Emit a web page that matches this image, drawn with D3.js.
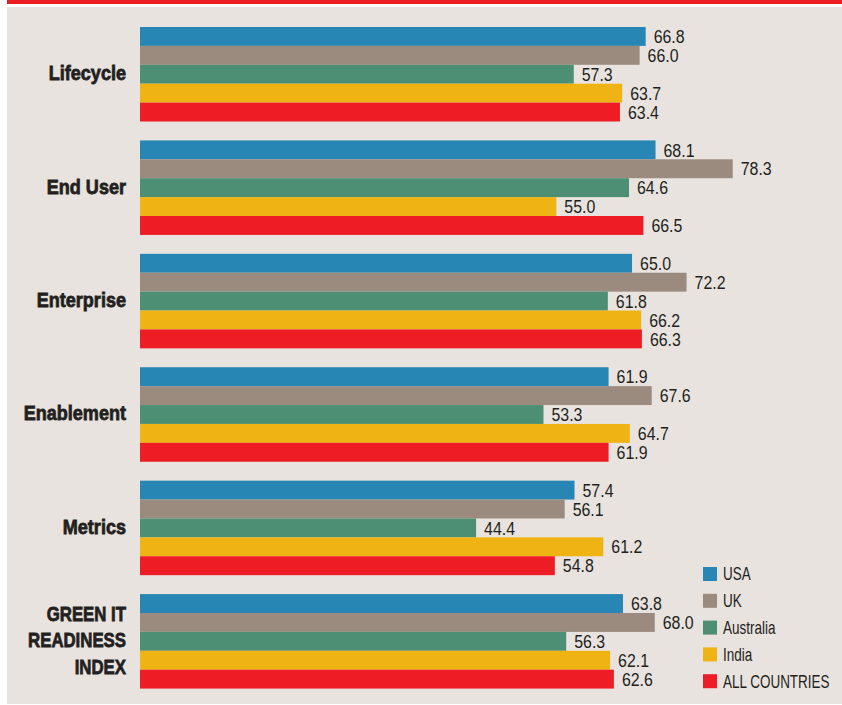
<!DOCTYPE html>
<html>
<head>
<meta charset="utf-8">
<script src="https://cdn.jsdelivr.net/npm/d3@7/dist/d3.min.js"></script>
<style>
  html, body { margin: 0; padding: 0; background: #ffffff; }
  svg { display: block; }
  .cat { font-family: "Liberation Sans", Arial, sans-serif; font-weight: bold; fill: #231f20; stroke: #231f20; stroke-width: 0.8px; }
  .val, .leg { font-family: "Liberation Sans", Arial, sans-serif; fill: #231f20; }
</style>
</head>
<body>
<script>
// Green IT readiness scores by dimension and country
const categories = ["Lifecycle", "End User", "Enterprise", "Enablement", "Metrics", "GREEN IT READINESS INDEX"];
const series = ["USA", "UK", "Australia", "India", "ALL COUNTRIES"];
const usa      = [66.8, 68.1, 65.0, 61.9, 57.4, 63.8];
const uk       = [66.0, 78.3, 72.2, 67.6, 56.1, 68.0];
const australia= [57.3, 64.6, 61.8, 53.3, 44.4, 56.3];
const india    = [63.7, 55.0, 66.2, 64.7, 61.2, 62.1];
const allCountries = [63.4, 66.5, 66.3, 61.9, 54.8, 62.6];
const colors = ["#2786b4", "#9a8b7e", "#4d8f74", "#efb313", "#ee1c25"];

const values = [usa, uk, australia, india, allCountries];
const W = 842, H = 705;

const svg = d3.select("body").append("svg").attr("width", W).attr("height", H);

// header band and panel
svg.append("rect").attr("x", 7).attr("y", 0).attr("width", W - 7).attr("height", 4).attr("fill", "#ee1c25");
svg.append("rect").attr("x", 7).attr("y", 7).attr("width", W - 7).attr("height", 697).attr("fill", "#e8e3df");

const x = d3.scaleLinear().domain([0, 100]).range([140, 897]);
const y0 = d3.scaleBand().domain(categories).range([27, 707.5]);
const groupH = 94.5;
const y1 = d3.scaleBand().domain(series).range([0, groupH]);

// condensed type is emulated by a horizontal squeeze
const squeeze = (tx, ty, k) => `translate(${tx},${ty}) scale(${k},1)`;

const groups = svg.selectAll("g.grp").data(categories).join("g")
  .attr("class", "grp")
  .attr("transform", d => `translate(0,${y0(d)})`);

groups.each(function(cat, ci) {
  const g = d3.select(this);
  const rows = series.map((s, si) => ({ s, si, v: values[si][ci] }));
  g.selectAll("rect").data(rows).join("rect")
    .attr("x", x(0))
    .attr("y", d => y1(d.s))
    .attr("width", d => x(d.v) - x(0))
    .attr("height", y1.bandwidth())
    .attr("fill", d => colors[d.si]);
  g.selectAll("text.val").data(rows).join("text")
    .attr("class", "val")
    .attr("transform", d => squeeze(x(d.v) + 8, y1(d.s) + y1.bandwidth() / 2, 0.86))
    .attr("dy", "0.36em")
    .attr("font-size", 18.5)
    .text(d => d.v.toFixed(1));

  // category label, wrapped for the index
  const lines = cat === "GREEN IT READINESS INDEX" ? ["GREEN IT", "READINESS", "INDEX"] : [cat];
  const lh = 26.5;
  lines.forEach((ln, i) => {
    g.append("text").attr("class", "cat")
      .attr("text-anchor", "end")
      .attr("font-size", 21)
      .attr("transform", squeeze(126, groupH / 2 + (i - (lines.length - 1) / 2) * lh, lines.length > 1 ? 0.8 : 0.86))
      .attr("dy", "0.28em")
      .text(ln);
  });
});

// legend
const leg = svg.append("g");
series.forEach((s, i) => {
  const yy = 574 + i * 26.8;
  leg.append("rect").attr("x", 703).attr("y", yy - 7).attr("width", 14).attr("height", 14).attr("fill", colors[i]);
  leg.append("text").attr("class", "leg")
    .attr("transform", squeeze(723, yy, 0.77))
    .attr("dy", "0.36em")
    .attr("font-size", 17.5).text(s);
});
</script>
</body>
</html>
